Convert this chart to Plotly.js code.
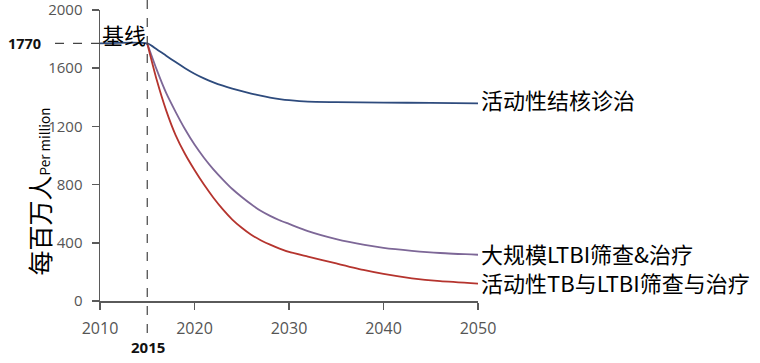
<!DOCTYPE html>
<html>
<head>
<meta charset="utf-8">
<script src="https://cdn.plot.ly/plotly-3.0.1.min.js"></script>
<style>html,body{margin:0;padding:0;background:#fff;}#chart{width:760px;height:363px;}</style>
</head>
<body>
<div id="chart"></div>
<script>
// Years and series values (per million)
const yearsBlue = [2010, 2015, 2016, 2017, 2018, 2019, 2020, 2021, 2022, 2023, 2024, 2025, 2026, 2027, 2028, 2029, 2030, 2032, 2035, 2040, 2045, 2050];
const activeTB  = [1770, 1770, 1730, 1686, 1642, 1600, 1562, 1530, 1503, 1480, 1460, 1442, 1426, 1411, 1398, 1388, 1380, 1370, 1367, 1364, 1361, 1358];

const yearsScr = [2015, 2016, 2017, 2018, 2019, 2020, 2021, 2022, 2023, 2024, 2025, 2026, 2027, 2028, 2029, 2030, 2032, 2035, 2038, 2040, 2043, 2046, 2050];
const massLTBI = [1770, 1590, 1430, 1300, 1180, 1075, 985, 905, 835, 770, 715, 665, 620, 585, 555, 530, 480, 425, 385, 365, 345, 330, 318];
const bothTB   = [1770, 1520, 1310, 1140, 1010, 900, 800, 710, 630, 560, 503, 455, 418, 387, 360, 337, 305, 258, 212, 186, 156, 136, 120];

const seriesNames = ['活动性结核诊治', '大规模LTBI筛查&治疗', '活动性TB与LTBI筛查与治疗'];
const labelY = [1389, 331, 133];
const xTicks = [2010, 2020, 2030, 2040, 2050];
const yTicks = [0, 400, 800, 1200, 1600, 2000];
const baselineValue = 1770;
const baselineYear = 2015;

const colors = ['#2e4b7d', '#7d6797', '#b5342e'];
const cjk = '"Noto Sans CJK SC", "Noto Sans", sans-serif';
const latin = '"Open Sans", "Noto Sans", sans-serif';

const traces = [
  {x: yearsBlue, y: activeTB, name: seriesNames[0]},
  {x: yearsScr, y: massLTBI, name: seriesNames[1]},
  {x: yearsScr, y: bothTB, name: seriesNames[2]}
].map((t, i) => Object.assign(t, {
  type: 'scatter', mode: 'lines',
  line: {color: colors[i], width: 1.8, shape: 'spline', smoothing: 0.6},
  hoverinfo: 'skip'
}));

const annotations = seriesNames.map((n, i) => ({
  x: 2050, y: labelY[i], xref: 'x', yref: 'y', xanchor: 'left', yanchor: 'middle',
  xshift: 1, text: n, showarrow: false, height: 26,
  font: {family: cjk, size: 22, color: '#000'}
}));
annotations.push(
  {x: 2010, y: 1, xref: 'x', yref: 'paper', xanchor: 'left', yanchor: 'middle', yshift: -24,
   text: '基线', showarrow: false, font: {family: cjk, size: 22, color: '#000'}},
  {x: 0, y: baselineValue, xref: 'paper', yref: 'y', xanchor: 'center', yanchor: 'middle', xshift: -76,
   text: '<b>' + baselineValue + '</b>', showarrow: false, font: {family: latin, size: 14.5, color: '#111'}},
  {x: baselineYear, y: 0, xref: 'x', yref: 'y', xanchor: 'center', yanchor: 'middle', yshift: -46, xshift: 1,
   text: '<b>' + baselineYear + '</b>', showarrow: false, font: {family: latin, size: 15, color: '#111'}},
  {x: 0, y: 0.5, xref: 'paper', yref: 'paper', xanchor: 'center', yanchor: 'middle', xshift: -62, yshift: -36,
   textangle: -90, showarrow: false,
   text: '每百万人<span style="font-size:13.5px">Per million</span>',
   font: {family: cjk, size: 25, color: '#000'}}
);

const layout = {
  width: 760, height: 363,
  margin: {l: 100, r: 282, t: 10, b: 62},
  paper_bgcolor: '#fff', plot_bgcolor: '#fff',
  showlegend: false,
  xaxis: {
    range: [2010, 2050], tickvals: xTicks, showgrid: false, zeroline: false,
    showline: true, linecolor: '#5a5a5a', linewidth: 1.5,
    ticks: 'outside', ticklen: 7, tickcolor: '#5a5a5a', tickwidth: 1.5,
    ticklabelstandoff: 5, ticklabeloverflow: 'allow',
    tickfont: {family: latin, size: 16, color: '#555'}
  },
  yaxis: {
    range: [0, 2000], tickvals: yTicks, showgrid: false, zeroline: false,
    showline: true, linecolor: '#5a5a5a', linewidth: 1.5,
    ticks: 'outside', ticklen: 7, tickcolor: '#5a5a5a', tickwidth: 1.5,
    ticklabelstandoff: 6, ticklabeloverflow: 'allow',
    tickfont: {family: latin, size: 15, color: '#555'}
  },
  shapes: [
    {type: 'line', xref: 'paper', yref: 'y', x0: -0.119, x1: 0, y0: baselineValue, y1: baselineValue,
     line: {color: '#444', width: 1.2, dash: 'dash'}},
    {type: 'line', xref: 'x', yref: 'paper', x0: baselineYear, x1: baselineYear, y0: -0.11, y1: 1.035,
     line: {color: '#444', width: 1.2, dash: 'dash'}}
  ],
  annotations: annotations
};

Plotly.newPlot('chart', traces, layout, {displayModeBar: false, staticPlot: true});
</script>
</body>
</html>
